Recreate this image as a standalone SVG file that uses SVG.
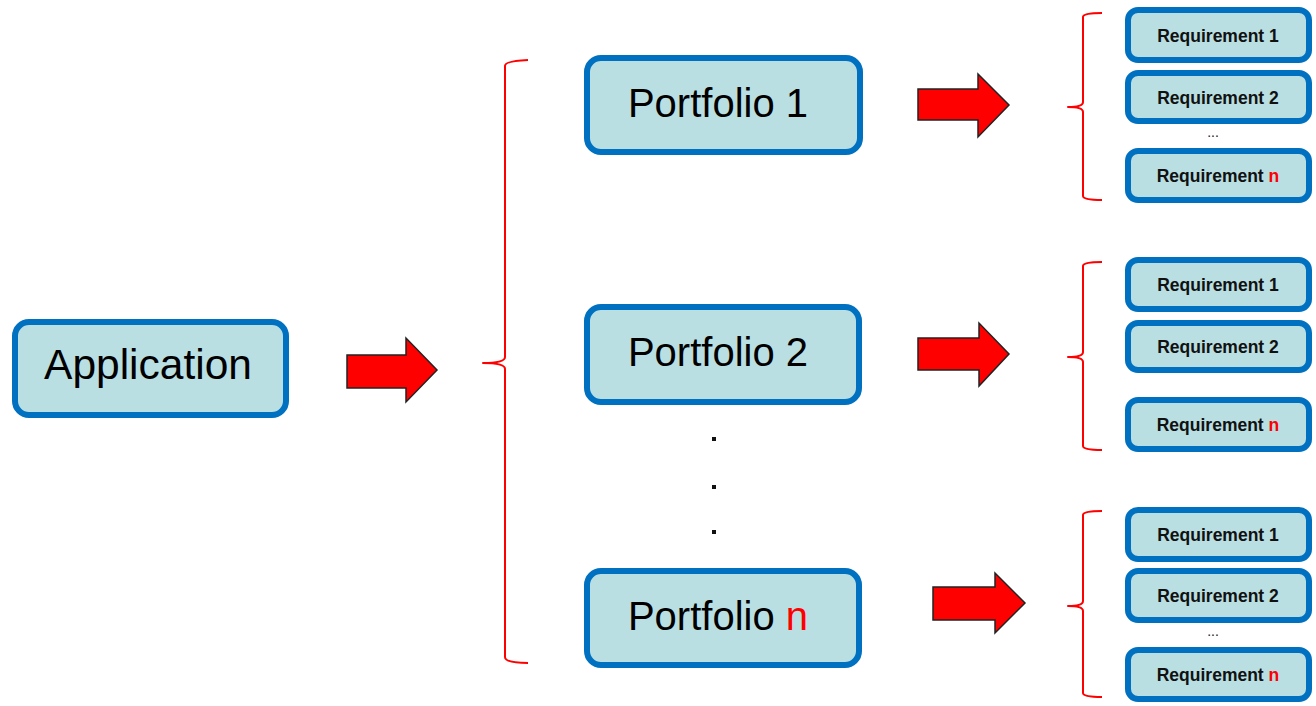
<svg xmlns="http://www.w3.org/2000/svg" width="1316" height="706" viewBox="0 0 1316 706">
  <defs>
    <style>
      .box { fill: #B9DFE3; stroke: #0070C0; stroke-width: 6; }
      .big { font-family: "Liberation Sans", Arial, sans-serif; font-size: 40px; fill: #000; text-anchor: middle; }
      .req { font-family: "Liberation Sans", Arial, sans-serif; font-size: 17.5px; font-weight: bold; fill: #111; text-anchor: middle; }
      .red { fill: #FF0000; }
      .arrow { fill: #FF0000; stroke: #222; stroke-width: 1.5; stroke-linejoin: miter; }
      .brace { fill: none; stroke: #FF0000; stroke-width: 2; stroke-linejoin: round; }
      .dots { font-family: "Liberation Sans", Arial, sans-serif; font-size: 14px; fill: #222; text-anchor: middle; }
    </style>
  </defs>
  <rect width="1316" height="706" fill="#FFFFFF"/>

  <!-- Application -->
  <g id="application">
    <rect class="box" x="15" y="322" width="271" height="93" rx="14"/>
    <text class="big" x="148" y="379" style="font-size:42.5px">Application</text>
  </g>

  <!-- Portfolios -->
  <g id="portfolio-1">
    <rect class="box" x="587" y="58" width="273" height="94" rx="14"/>
    <text class="big" x="718" y="117">Portfolio 1</text>
  </g>
  <g id="portfolio-2">
    <rect class="box" x="587" y="307" width="272" height="95" rx="14"/>
    <text class="big" x="718" y="366">Portfolio 2</text>
  </g>
  <g id="portfolio-ellipsis">
    <rect x="712" y="437" width="4" height="4" fill="#111"/>
    <rect x="712" y="485" width="4" height="4" fill="#111"/>
    <rect x="712" y="530" width="4" height="4" fill="#111"/>
  </g>
  <g id="portfolio-n">
    <rect class="box" x="587" y="571" width="272" height="94" rx="14"/>
    <text class="big" x="718" y="630">Portfolio <tspan class="red">n</tspan></text>
  </g>

  <!-- Requirement group 1 -->
  <g id="requirements-1">
    <rect class="box" x="1128" y="10" width="181" height="50" rx="10"/>
    <text class="req" x="1218" y="42">Requirement 1</text>
    <rect class="box" x="1128" y="73" width="181" height="48" rx="10"/>
    <text class="req" x="1218" y="104">Requirement 2</text>
    <text class="dots" x="1213" y="137">...</text>
    <rect class="box" x="1128" y="151" width="181" height="49" rx="10"/>
    <text class="req" x="1218" y="182">Requirement <tspan class="red">n</tspan></text>
  </g>

  <!-- Requirement group 2 -->
  <g id="requirements-2">
    <rect class="box" x="1128" y="260" width="181" height="49" rx="10"/>
    <text class="req" x="1218" y="291">Requirement 1</text>
    <rect class="box" x="1128" y="323" width="181" height="47" rx="10"/>
    <text class="req" x="1218" y="353">Requirement 2</text>
    <rect class="box" x="1128" y="400" width="181" height="49" rx="10"/>
    <text class="req" x="1218" y="431">Requirement <tspan class="red">n</tspan></text>
  </g>

  <!-- Requirement group n -->
  <g id="requirements-n">
    <rect class="box" x="1128" y="510" width="181" height="49" rx="10"/>
    <text class="req" x="1218" y="541">Requirement 1</text>
    <rect class="box" x="1128" y="571" width="181" height="49" rx="10"/>
    <text class="req" x="1218" y="602">Requirement 2</text>
    <text class="dots" x="1213" y="636">...</text>
    <rect class="box" x="1128" y="650" width="181" height="49" rx="10"/>
    <text class="req" x="1218" y="681">Requirement <tspan class="red">n</tspan></text>
  </g>

  <!-- Connectors: block arrows and braces -->
  <g id="connectors">
    <path class="arrow" d="M347 355 L406 355 L406 338 L437 370 L406 402 L406 388 L347 388 Z"/>
    <path class="arrow" d="M918 89 L978 89 L978 74 L1009 105 L978 137 L978 120 L918 120 Z"/>
    <path class="arrow" d="M918 338 L979 338 L979 323 L1009 354 L979 386 L979 370 L918 370 Z"/>
    <path class="arrow" d="M933 587 L995 587 L995 573 L1025 603 L995 633 L995 620 L933 620 Z"/>

    <path class="brace" d="M528 60 Q505 61 505 66 L505 357 Q505 363 483 363 Q505 363 505 369 L505 657 Q505 663 528 663"/>
    <path class="brace" d="M1102 13 Q1083 13 1083 17 L1083 102 Q1083 107 1068 107 Q1083 107 1083 112 L1083 196 Q1083 200 1102 200"/>
    <path class="brace" d="M1102 262 Q1083 262 1083 266 L1083 352 Q1083 357 1068 357 Q1083 357 1083 362 L1083 446 Q1083 450 1102 450"/>
    <path class="brace" d="M1102 511 Q1083 511 1083 515 L1083 601 Q1083 606 1068 606 Q1083 606 1083 611 L1083 693 Q1083 697 1102 697"/>
  </g>
</svg>
